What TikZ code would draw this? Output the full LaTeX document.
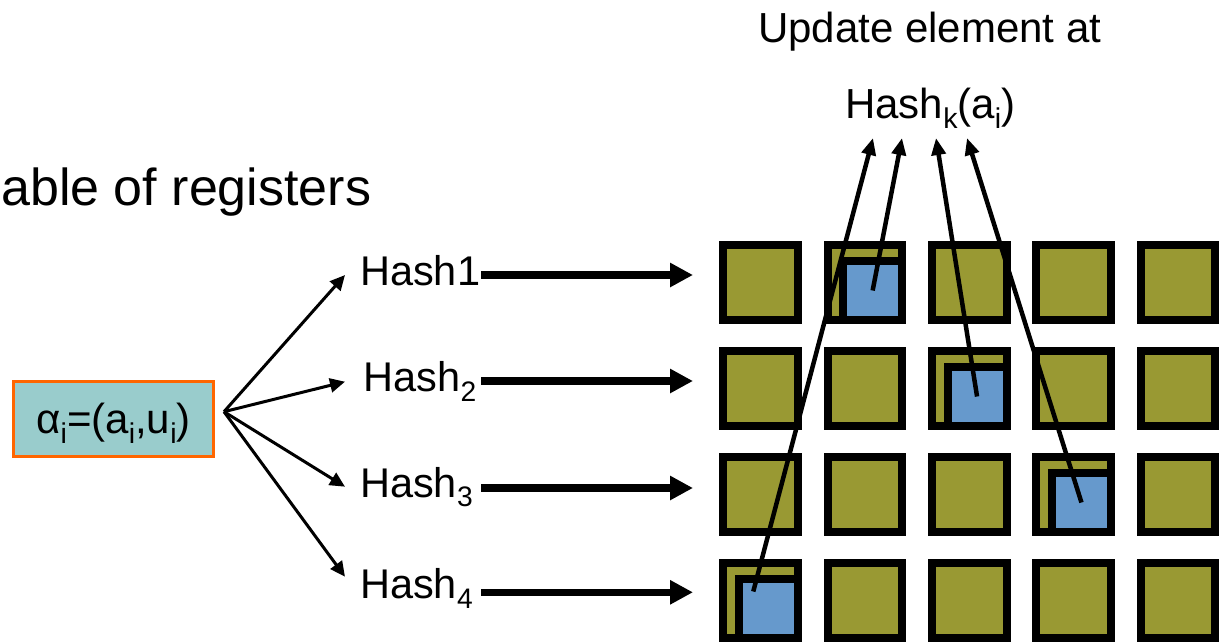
\documentclass[tikz,border=0pt]{standalone}
\usepackage{fontspec}
\setmainfont{Liberation Sans}
\usetikzlibrary{arrows.meta,calc}

\definecolor{cellolive}{HTML}{999933}
\definecolor{hitblue}{HTML}{6699CC}
\definecolor{boxteal}{HTML}{99CCCC}
\definecolor{boxorange}{HTML}{FF6600}

% lowered, smaller text for subscripts
\newcommand\lowtxt[1]{\raisebox{-0.24em}{\scalebox{0.68}{#1}}}

\tikzset{
  cell/.style={draw=black, line width=8pt, fill=cellolive, minimum size=74.5pt, inner sep=0pt},
  hit/.style={draw=black, line width=8pt, fill=hitblue, minimum size=59pt, inner sep=0pt},
  hashlabel/.style={inner sep=0pt, anchor=base west, font=\fontsize{41.5}{49}\selectfont},
  label42/.style={inner sep=0pt, anchor=base west, font=\fontsize{42}{50}\selectfont},
  fan/.style={line width=3pt, -{Triangle[length=15pt,width=14pt]}},
  feed/.style={line width=7.5pt, -{Triangle[length=23pt,width=23pt]}},
  lookup/.style={line width=4.5pt, -{Triangle[length=17pt,width=14pt]}},
}

\begin{document}
\begin{tikzpicture}[x=1pt,y=-1pt]
\useasboundingbox (0,0) rectangle (1230,642);

% titles
\node[inner sep=0pt, anchor=base west, font=\fontsize{52}{60}\selectfont] (title) at (1,205) {able of registers};
\node[label42] (upd) at (758,42) {Update element at};
\node[label42] (hk) at (845,118) {Hash\lowtxt{k}(a\lowtxt{i})};

% input element
\node[draw=boxorange, line width=3pt, fill=boxteal, minimum width=200pt, minimum height=75pt,
      inner sep=0pt, text height=36pt, text depth=8pt, font=\fontsize{42}{50}\selectfont]
      (alpha) at (113.5,419) {α\lowtxt{i}=(a\lowtxt{i},u\lowtxt{i})};

% hash functions
\node[hashlabel] (h1) at (360,285) {Hash1};
\node[hashlabel] (h2) at (363.5,391.7) {Hash\lowtxt{2}};
\node[hashlabel] (h3) at (360,497) {Hash\lowtxt{3}};
\node[hashlabel] (h4) at (360,598.3) {Hash\lowtxt{4}};

% register table
\foreach \r in {0,...,3}
  \foreach \c in {0,...,4}
    \node[cell] (c\r\c) at ({760.5+104.4*\c},{282.5+106*\r}) {};

% registers selected by each hash
\node[hit] (b1) at ({768.25+104.4*1},{290.5+106*0}) {};
\node[hit] (b2) at ({768.25+104.4*2},{290.5+106*1}) {};
\node[hit] (b3) at ({768.25+104.4*3},{290.5+106*2}) {};
\node[hit] (b4) at ({768.25+104.4*0},{290.5+106*3}) {};

% fan-out from the element to the hash functions
\coordinate (src) at (224,411.7);
\coordinate (t1) at (345,275);
\coordinate (t2) at (345,381.7);
\coordinate (t3) at (345,486.7);
\coordinate (t4) at (345,576.7);
\draw[fan] (src) -- (t1);
\draw[fan] (src) -- (t2);
\draw[fan] (src) -- (t3);
\draw[fan] (src) -- (t4);

% hash outputs into the table rows
\coordinate (s1) at (481,275);   \coordinate (e1) at (693,275);
\coordinate (s2) at (481,381);   \coordinate (e2) at (693,381);
\coordinate (s3) at (481,488);   \coordinate (e3) at (693,488);
\coordinate (s4) at (481,592.3); \coordinate (e4) at (693,592.3);
\draw[feed] (s1) -- (e1);
\draw[feed] (s2) -- (e2);
\draw[feed] (s3) -- (e3);
\draw[feed] (s4) -- (e4);

% updated positions
\coordinate (u1) at (873,138);
\coordinate (u2) at (902,138);
\coordinate (u3) at (936,138);
\coordinate (u4) at (967,138);
\draw[lookup] ($(b4.center)+(-15,-17)$) -- (u1);
\draw[lookup] (b1.center) -- (u2);
\draw[lookup] (b2.center) -- (u3);
\draw[lookup] (b3.center) -- (u4);
\end{tikzpicture}
\end{document}
